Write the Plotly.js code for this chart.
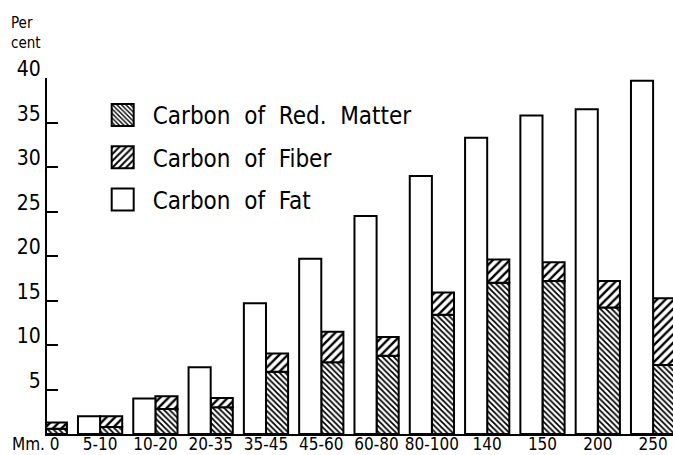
<!DOCTYPE html>
<html>
<head>
<meta charset="utf-8">
<script src="https://cdn.plot.ly/plotly-3.0.1.min.js"></script>
<style>
  html, body { margin: 0; padding: 0; background: #fff; }
  #chart { width: 673px; height: 455px; }
</style>
</head>
<body>
<div id="chart"></div>
<script>
// ---- data ----
const categories = ["0", "5-10", "10-20", "20-35", "35-45", "45-60", "60-80", "80-100", "140", "150", "200", "250"];
const redMatter  = [0.6, 0.8, 2.8, 3.0, 7.0, 8.05, 8.8, 13.4, 17.0, 17.2, 14.2, 7.75];
const fiber      = [0.7, 1.2, 1.45, 1.05, 2.05, 3.45, 2.1, 2.5, 2.6, 2.1, 3.0, 7.5];
const fat        = [0, 2.0, 4.0, 7.5, 14.7, 19.7, 24.5, 29.0, 33.3, 35.8, 36.5, 39.7];
const yTicks     = [5, 10, 15, 20, 25, 30, 35, 40];
const seriesNames = ["Carbon\u00a0\u00a0of\u00a0\u00a0Red.\u00a0\u00a0Matter", "Carbon\u00a0\u00a0of\u00a0\u00a0Fiber", "Carbon\u00a0\u00a0of\u00a0\u00a0Fat"];

const xIdx = categories.map((_, i) => i);
const FONT = '"DejaVu Sans Condensed", "DejaVu Sans", sans-serif';
const outline = { color: '#000', width: 2 };

const traces = [
  {
    type: 'bar', name: seriesNames[0], legendgroup: 'a',
    x: xIdx, y: redMatter, width: 0.4, offset: 0,
    marker: { color: '#fff', line: outline,
      pattern: { shape: '\\', size: 4, solidity: 0.45, fgcolor: '#000', bgcolor: '#fff' } },
    hoverinfo: 'skip'
  },
  {
    type: 'bar', name: seriesNames[1], legendgroup: 'b',
    x: xIdx, y: fiber, base: redMatter, width: 0.4, offset: 0,
    marker: { color: '#fff', line: outline,
      pattern: { shape: '/', size: 6, solidity: 0.4, fgcolor: '#000', bgcolor: '#fff' } },
    hoverinfo: 'skip'
  },
  {
    type: 'bar', name: seriesNames[2], legendgroup: 'c',
    x: xIdx, y: fat, width: 0.4, offset: -0.4,
    marker: { color: '#fff', line: outline },
    hoverinfo: 'skip'
  }
];

const layout = {
  width: 673, height: 455,
  margin: { l: 47, r: 0, t: 78, b: 21, pad: 0 },
  paper_bgcolor: '#fff', plot_bgcolor: '#fff',
  barmode: 'overlay',
  font: { family: FONT, color: '#000' },
  showlegend: true,
  legend: {
    x: 0.073, y: 0.958, xanchor: 'left', yanchor: 'top',
    traceorder: 'grouped', tracegroupgap: 8,
    itemwidth: 50,
    font: { family: FONT, size: 24, color: '#000' },
    bgcolor: 'rgba(0,0,0,0)'
  },
  xaxis: {
    range: [0.04, 11.36],
    tickvals: xIdx, ticktext: categories,
    showgrid: false, zeroline: false,
    showline: true, linecolor: '#000', linewidth: 2,
    ticks: '', ticklabelstandoff: -6,
    tickfont: { family: FONT, size: 17, color: '#000' },
    fixedrange: true
  },
  yaxis: {
    range: [0, 40],
    tickvals: yTicks,
    showgrid: false, zeroline: false,
    showline: true, linecolor: '#000', linewidth: 2,
    ticks: 'inside', ticklen: 11, tickwidth: 2, tickcolor: '#000',
    ticklabelshift: -9,
    tickfont: { family: FONT, size: 21, color: '#000' },
    fixedrange: true
  },
  annotations: [
    { xref: 'paper', yref: 'paper', x: -0.018, y: 0, yshift: -10,
      xanchor: 'center', yanchor: 'middle', showarrow: false,
      text: 'Mm.\u00a0' + categories[0], font: { family: FONT, size: 17, color: '#000' } },
    { xref: 'paper', yref: 'paper', x: -0.034, y: 1, yshift: 45,
      xanchor: 'center', yanchor: 'middle', showarrow: false, align: 'left',
      text: 'Per<br>cent', font: { family: FONT, size: 15, color: '#000' } }
  ]
};

Plotly.newPlot('chart', traces, layout, { displayModeBar: false, staticPlot: true }).then(() => {
  document.querySelectorAll('#chart .legendpoints path').forEach(p => {
    p.setAttribute('d', 'M11,11H-11V-11H11Z');
  });
});
</script>
</body>
</html>
